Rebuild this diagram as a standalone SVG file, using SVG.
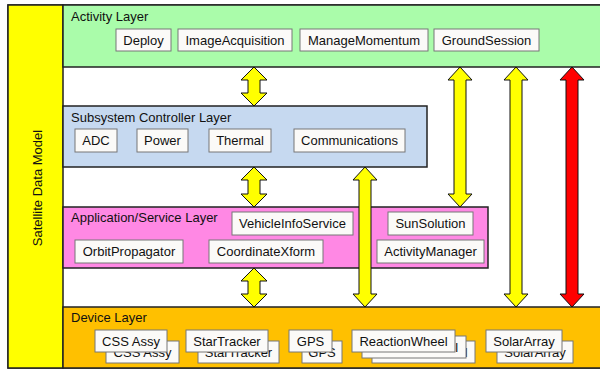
<svg xmlns="http://www.w3.org/2000/svg" width="600" height="371" viewBox="0 0 600 371">
<style>
text{font-family:"Liberation Sans",Arial,sans-serif;font-size:13px;fill:#111}
.layer{stroke:#222;stroke-width:1.5}
.box{fill:#fbfaf8;stroke:#777;stroke-width:1}
.c{text-anchor:middle}
.ya{fill:#ffff00;stroke:#111;stroke-width:1}
.ra{fill:#ff0000;stroke:#111;stroke-width:1}
</style>
<rect x="0" y="0" width="600" height="371" fill="#ffffff"/>
<rect x="8" y="5" width="620" height="363" fill="#ffffff" class="layer"/>

<g id="satellite-data-model">
<rect x="8" y="5" width="55" height="363" fill="#ffff00" class="layer"/>
<text class="c" transform="translate(42,188) rotate(-90)">Satellite Data Model</text>
</g>

<g id="activity-layer">
<rect x="63" y="5" width="560" height="62" fill="#aafcaa" class="layer"/>
<text x="71" y="21">Activity Layer</text>
</g>
<g id="deploy"><rect class="box" x="116" y="29" width="55" height="22"/><text class="c" x="143.5" y="44.5">Deploy</text></g>
<g id="imageacquisition"><rect class="box" x="178" y="29" width="114" height="22"/><text class="c" x="235" y="44.5">ImageAcquisition</text></g>
<g id="managemomentum"><rect class="box" x="300" y="29" width="128" height="22"/><text class="c" x="364" y="44.5">ManageMomentum</text></g>
<g id="groundsession"><rect class="box" x="434" y="29" width="105" height="22"/><text class="c" x="486.5" y="44.5">GroundSession</text></g>

<g id="subsystem-controller-layer">
<rect x="63" y="106" width="364" height="61" fill="#c6d9f0" class="layer"/>
<text x="71" y="122">Subsystem Controller Layer</text>
</g>
<g id="adc"><rect class="box" x="75" y="129" width="42" height="23"/><text class="c" x="96" y="145">ADC</text></g>
<g id="power"><rect class="box" x="137" y="129" width="51" height="23"/><text class="c" x="162.5" y="145">Power</text></g>
<g id="thermal"><rect class="box" x="209" y="129" width="62" height="23"/><text class="c" x="240" y="145">Thermal</text></g>
<g id="communications"><rect class="box" x="294" y="129" width="111" height="23"/><text class="c" x="349.5" y="145">Communications</text></g>

<g id="application-service-layer">
<rect x="63" y="207" width="425" height="61" fill="#ff88e4" class="layer"/>
<text x="71" y="222">Application/Service Layer</text>
</g>
<g id="vehicleinfoservice"><rect class="box" x="232" y="212" width="121" height="23"/><text class="c" x="292.5" y="228">VehicleInfoService</text></g>
<g id="sunsolution"><rect class="box" x="388" y="212" width="85" height="23"/><text class="c" x="430.5" y="228">SunSolution</text></g>
<g id="orbitpropagator"><rect class="box" x="75" y="240" width="108" height="23"/><text class="c" x="129" y="256">OrbitPropagator</text></g>
<g id="coordinatexform"><rect class="box" x="209" y="240" width="114" height="23"/><text class="c" x="266" y="256">CoordinateXform</text></g>
<g id="activitymanager"><rect class="box" x="377" y="240" width="107" height="23"/><text class="c" x="430.5" y="256">ActivityManager</text></g>

<g id="device-layer">
<rect x="63" y="307" width="560" height="61" fill="#ffc000" class="layer"/>
<text x="71" y="322">Device Layer</text>
</g>
<g id="css-assy">
<rect class="box" x="106" y="341" width="73" height="22"/><text class="c" x="142.5" y="356.5">CSS Assy</text>
<rect class="box" x="95" y="330" width="72" height="22"/><text class="c" x="131" y="345.5">CSS Assy</text>
</g>
<g id="startracker">
<rect class="box" x="198" y="341" width="81" height="22"/><text class="c" x="238.5" y="356.5">StarTracker</text>
<rect class="box" x="186" y="330" width="82" height="22"/><text class="c" x="227" y="345.5">StarTracker</text>
</g>
<g id="gps">
<rect class="box" x="302" y="341" width="40" height="22"/><text class="c" x="322" y="356.5">GPS</text>
<rect class="box" x="289" y="330" width="43" height="22"/><text class="c" x="310.5" y="345.5">GPS</text>
</g>
<g id="reactionwheel">
<rect class="box" x="372" y="341" width="103" height="22"/><text class="c" x="423.5" y="356.5">ReactionWheel</text>
<rect class="box" x="362" y="336" width="104" height="22"/><text class="c" x="414" y="351.5">ReactionWheel</text>
<rect class="box" x="352" y="330" width="103" height="22"/><text class="c" x="403.5" y="345.5">ReactionWheel</text>
</g>
<g id="solararray">
<rect class="box" x="497" y="341" width="76" height="22"/><text class="c" x="535" y="356.5">SolarArray</text>
<rect class="box" x="486" y="330" width="76" height="22"/><text class="c" x="524" y="345.5">SolarArray</text>
</g>

<g id="connectors">
<polygon class="ya" points="254,67 267,80 260,80 260,93 267,93 254,106 241,93 248,93 248,80 241,80"/>
<polygon class="ya" points="254,167 267,180 260,180 260,194 267,194 254,207 241,194 248,194 248,180 241,180"/>
<polygon class="ya" points="254,268 267,281 260,281 260,294 267,294 254,307 241,294 248,294 248,281 241,281"/>
<polygon class="ya" points="365,167 377,180 371,180 371,294 377,294 365,307 353,294 359,294 359,180 353,180"/>
<polygon class="ya" points="460,67 472,80 466,80 466,194 472,194 460,207 448,194 454,194 454,80 448,80"/>
<polygon class="ya" points="516,67 528,80 522,80 522,294 528,294 516,307 504,294 510,294 510,80 504,80"/>
<polygon class="ra" points="572,67 584,80 578,80 578,294 584,294 572,307 560,294 566,294 566,80 560,80"/>
</g>
</svg>
